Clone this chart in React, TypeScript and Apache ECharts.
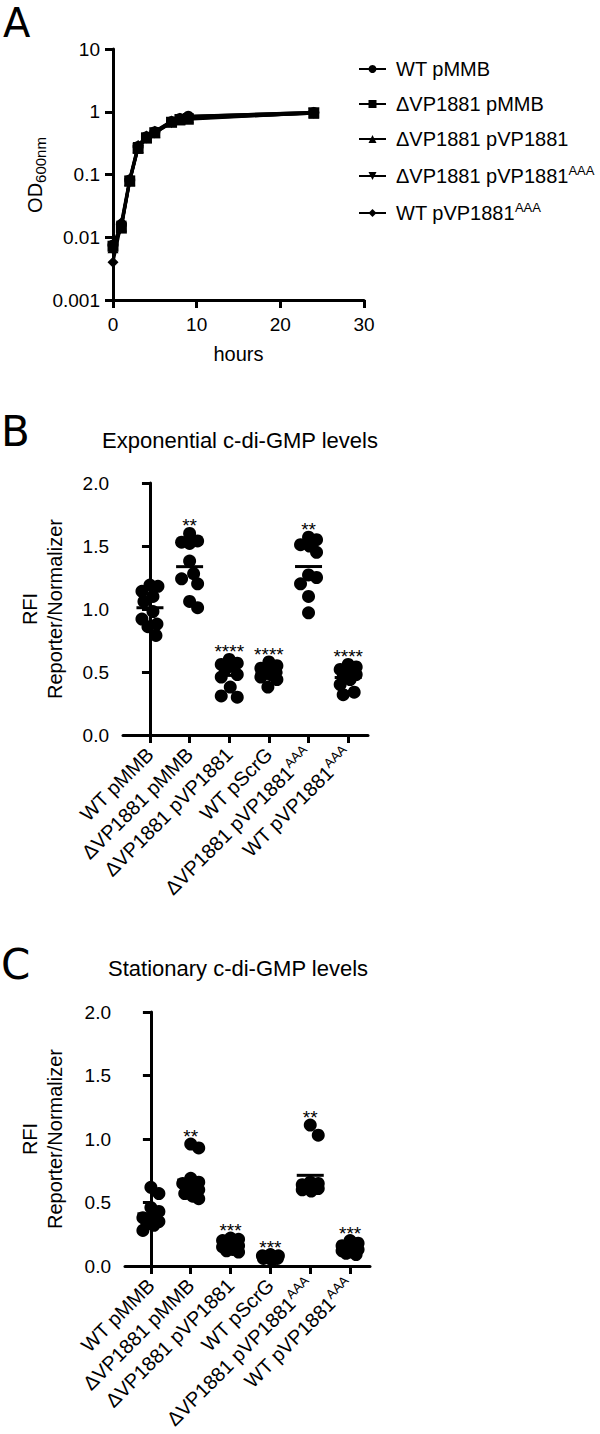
import React, { useEffect, useRef } from 'react';
import * as echarts from 'echarts';

const FONT = '"Liberation Sans", Arial, sans-serif';
const LETTER_FONT = '"DejaVu Sans", sans-serif';

// ---------- Panel A: growth curves ----------
const hours = [0, 1, 2, 3, 4, 5, 7, 8, 9, 24];
const odWTpMMB = [0.0075, 0.016, 0.082, 0.28, 0.4, 0.48, 0.7, 0.78, 0.85, 0.97];
const odDelpMMB = [0.0072, 0.014, 0.078, 0.26, 0.38, 0.46, 0.68, 0.74, 0.76, 0.96];
const odDelpVP = [0.0068, 0.015, 0.08, 0.27, 0.39, 0.47, 0.69, 0.76, 0.8, 0.95];
const odDelpVPAAA = [0.0062, 0.015, 0.079, 0.27, 0.38, 0.46, 0.67, 0.75, 0.78, 0.95];
const odWTpVPAAA = [0.004, 0.017, 0.085, 0.29, 0.41, 0.49, 0.71, 0.79, 0.84, 0.98];
const growthNames = ['WT pMMB', 'ΔVP1881 pMMB', 'ΔVP1881 pVP1881', 'ΔVP1881 pVP1881AAA', 'WT pVP1881AAA'];
const odTicks = [0.001, 0.01, 0.1, 1, 10];

// ---------- Panels B & C: c-di-GMP reporter ----------
const groupLabels = ['WT pMMB', 'ΔVP1881 pMMB', 'ΔVP1881 pVP1881', 'WT pScrG', 'ΔVP1881 pVP1881AAA', 'WT pVP1881AAA'];

const expWTpMMB = [1.19, 1.18, 1.14, 1.1, 1.06, 0.98, 0.92, 0.88, 0.86, 0.79];
const expDelpMMB = [1.6, 1.54, 1.53, 1.52, 1.38, 1.28, 1.24, 1.2, 1.06, 1.01];
const expDelpVP = [0.6, 0.57, 0.56, 0.55, 0.52, 0.48, 0.46, 0.38, 0.31, 0.3];
const expWTpScrG = [0.58, 0.55, 0.53, 0.52, 0.5, 0.49, 0.48, 0.46, 0.44, 0.38];
const expDelpVPAAA = [1.57, 1.55, 1.51, 1.5, 1.45, 1.27, 1.25, 1.2, 1.1, 0.97];
const expWTpVPAAA = [0.56, 0.54, 0.52, 0.5, 0.48, 0.46, 0.44, 0.4, 0.34, 0.32];
const expStars = ['', '**', '****', '****', '**', '****'];

const statWTpMMB = [0.62, 0.57, 0.46, 0.43, 0.38, 0.37, 0.35, 0.33, 0.32, 0.28];
const statDelpMMB = [0.96, 0.93, 0.69, 0.66, 0.65, 0.63, 0.6, 0.57, 0.55, 0.53];
const statDelpVP = [0.22, 0.21, 0.2, 0.19, 0.17, 0.16, 0.15, 0.13, 0.12, 0.11];
const statWTpScrG = [0.09, 0.08, 0.08, 0.07, 0.07, 0.07, 0.06, 0.06, 0.06, 0.05];
const statDelpVPAAA = [1.11, 1.03, 0.66, 0.65, 0.64, 0.63, 0.62, 0.61, 0.6, 0.59];
const statWTpVPAAA = [0.2, 0.18, 0.16, 0.15, 0.14, 0.13, 0.12, 0.11, 0.1, 0.09];
const statStars = ['', '**', '***', '***', '**', '***'];

// ---------- helpers ----------
const BASE = 20;
const supText = (s: string) =>
  s.endsWith('AAA') ? '{b|' + s.slice(0, -3) + '}{sup|AAA}' : '{b|' + s + '}';
const richSup = {
  b: { fontSize: BASE, lineHeight: 24, fontFamily: FONT, color: '#000' },
  sup: { fontSize: 13, lineHeight: 13, verticalAlign: 'top', fontFamily: FONT, color: '#000' },
};

// deterministic beeswarm-like spreading (pixel space), limited width
function swarm(values: number[], cat: number, pxX: number, pxY: number, maxPx = 8, d = 13) {
  const order = values.map((_, i) => i).sort((a, b) => values[b] - values[a]);
  const placed: { x: number; y: number }[] = [];
  const out: number[][] = new Array(values.length);
  for (const i of order) {
    const y = values[i] * pxY;
    let best = 0;
    let bestScore = -Infinity;
    for (let o = 0; o <= maxPx; o++) {
      const cands = o === 0 ? [0] : [o, -o];
      for (const s of cands) {
        let minD = Infinity;
        for (const p of placed) {
          const dd = Math.hypot(p.x - s, p.y - y);
          if (dd < minD) minD = dd;
        }
        const score = Math.min(minD, d) - Math.abs(s) * 0.01;
        if (score > bestScore + 1e-9) {
          bestScore = score;
          best = s;
        }
      }
    }
    placed.push({ x: best, y });
    out[i] = [cat + best / pxX, values[i]];
  }
  return out;
}

const mean = (a: number[]) => a.reduce((s, v) => s + v, 0) / a.length;

function dotPanelSeries(groups: number[][], stars: string[], axisIdx: number, pxX: number, pxY: number) {
  const pts: number[][] = [];
  groups.forEach((g, i) => pts.push(...swarm(g, i, pxX, pxY)));
  return [
    {
      type: 'scatter',
      xAxisIndex: axisIdx,
      yAxisIndex: axisIdx,
      symbol: 'circle',
      symbolSize: 13,
      itemStyle: { color: '#000', opacity: 1 },
      emphasis: { disabled: true },
      data: pts,
      z: 3,
    },
    {
      type: 'scatter',
      xAxisIndex: axisIdx,
      yAxisIndex: axisIdx,
      symbol: 'rect',
      symbolSize: [27, 3],
      itemStyle: { color: '#000', opacity: 1 },
      emphasis: { disabled: true },
      data: groups.map((g, i) => [i, mean(g)]),
      z: 4,
    },
    {
      type: 'scatter',
      xAxisIndex: axisIdx,
      yAxisIndex: axisIdx,
      symbol: 'circle',
      symbolSize: 0,
      itemStyle: { color: '#000', opacity: 1 },
      emphasis: { disabled: true },
      data: groups.map((g, i) => [i, Math.max(...g)]),
      label: {
        show: true,
        position: 'top',
        distance: -2,
        fontSize: 19,
        fontFamily: FONT,
        color: '#000',
        opacity: 1,
        formatter: (p: any) => stars[p.dataIndex],
      },
      z: 5,
    },
  ];
}

const axisLineStyle = { color: '#000', width: 3 };

function rfiYAxis(gridIndex: number) {
  return {
    type: 'value',
    gridIndex,
    min: 0,
    max: 2,
    interval: 0.5,
    axisLine: { show: true, lineStyle: axisLineStyle },
    axisTick: { show: true, length: 8, lineStyle: axisLineStyle },
    axisLabel: {
      margin: 14,
      fontSize: 19,
      fontFamily: FONT,
      color: '#000',
      formatter: (v: number) => v.toFixed(1),
    },
    splitLine: { show: false },
  };
}

function groupXAxis(gridIndex: number, min: number, max: number) {
  const vals = groupLabels.map((_, i) => i);
  return {
    type: 'value',
    gridIndex,
    min,
    max,
    axisLine: { show: true, onZero: false, lineStyle: axisLineStyle },
    axisTick: { show: true, length: 8, lineStyle: axisLineStyle, customValues: vals },
    axisLabel: {
      customValues: vals,
      rotate: 45,
      margin: 16,
      fontSize: BASE,
      fontFamily: FONT,
      color: '#000',
      formatter: (v: number) => supText(groupLabels[Math.round(v)] ?? ''),
      rich: richSup,
    },
    splitLine: { show: false },
  };
}

function App() {
  const ref = useRef<HTMLDivElement>(null);
  useEffect(() => {
    if (!ref.current) return;
    const chart = echarts.init(ref.current, null, { renderer: 'svg' });

    const growthSeries = [
      { name: growthNames[0], data: odWTpMMB, symbol: 'circle', rot: 0 },
      { name: growthNames[1], data: odDelpMMB, symbol: 'rect', rot: 0 },
      { name: growthNames[2], data: odDelpVP, symbol: 'triangle', rot: 0 },
      { name: growthNames[3], data: odDelpVPAAA, symbol: 'triangle', rot: 180 },
      { name: growthNames[4], data: odWTpVPAAA, symbol: 'diamond', rot: 0 },
    ].map((s) => ({
      type: 'line',
      name: s.name,
      xAxisIndex: 0,
      yAxisIndex: 0,
      symbol: s.symbol,
      symbolRotate: s.rot,
      symbolSize: 11,
      showSymbol: true,
      lineStyle: { color: '#000', width: 3 },
      itemStyle: { color: '#000', opacity: 1 },
      emphasis: { disabled: true },
      data: hours.map((h, i) => [h, s.data[i]]),
    }));

    const option: any = {
      animation: false,
      textStyle: { fontFamily: FONT },
      grid: [
        { left: 113, top: 49, width: 251, height: 251 },
        { left: 123, top: 483, width: 245, height: 252 },
        { left: 125, top: 1012, width: 245, height: 254 },
      ],
      legend: {
        orient: 'vertical',
        left: 353,
        top: 54,
        itemWidth: 27,
        itemHeight: 10,
        itemGap: 15,
        data: growthNames,
        lineStyle: { width: 2 },
        textStyle: {
          fontSize: BASE,
          fontFamily: FONT,
          color: '#000',
          padding: [0, 0, 0, 5],
          rich: richSup,
        },
        formatter: (n: string) => supText(n),
      },
      xAxis: [
        {
          type: 'value',
          gridIndex: 0,
          min: 0,
          max: 30,
          interval: 10,
          name: 'hours',
          nameLocation: 'middle',
          nameGap: 44,
          nameTextStyle: { fontSize: BASE, fontFamily: FONT, color: '#000' },
          axisLine: { show: true, onZero: false, lineStyle: axisLineStyle },
          axisTick: { show: true, length: 8, lineStyle: axisLineStyle },
          axisLabel: { margin: 15, fontSize: 19, fontFamily: FONT, color: '#000' },
          splitLine: { show: false },
        },
        groupXAxis(1, -0.68, 5.5),
        groupXAxis(2, -0.65, 5.5),
      ],
      yAxis: [
        {
          type: 'log',
          gridIndex: 0,
          logBase: 10,
          min: odTicks[0],
          max: odTicks[odTicks.length - 1],
          axisLine: { show: true, onZero: false, lineStyle: axisLineStyle },
          axisTick: { show: true, length: 8, lineStyle: axisLineStyle },
          minorTick: { show: false },
          axisLabel: {
            margin: 13,
            fontSize: 19,
            fontFamily: FONT,
            color: '#000',
            formatter: (v: number) => {
              const e = Math.round(Math.log10(v));
              return e >= 0 ? String(Math.pow(10, e)) : '0.' + '0'.repeat(-e - 1) + '1';
            },
          },
          splitLine: { show: false },
        },
        rfiYAxis(1),
        rfiYAxis(2),
      ],
      series: [
        ...growthSeries,
        ...dotPanelSeries(
          [expWTpMMB, expDelpMMB, expDelpVP, expWTpScrG, expDelpVPAAA, expWTpVPAAA],
          expStars,
          1,
          39.6,
          126
        ),
        ...dotPanelSeries(
          [statWTpMMB, statDelpMMB, statDelpVP, statWTpScrG, statDelpVPAAA, statWTpVPAAA],
          statStars,
          2,
          39.8,
          127
        ),
      ],
      graphic: [
        { type: 'text', x: 3, y: 23, style: { text: 'A', fontSize: 40, fontFamily: LETTER_FONT, fill: '#000', align: 'left', verticalAlign: 'middle' } },
        { type: 'text', x: 1, y: 431, style: { text: 'B', fontSize: 42, fontFamily: LETTER_FONT, fill: '#000', align: 'left', verticalAlign: 'middle' } },
        { type: 'text', x: 1, y: 964, style: { text: 'C', fontSize: 42, fontFamily: LETTER_FONT, fill: '#000', align: 'left', verticalAlign: 'middle' } },
        { type: 'text', x: 240, y: 440, style: { text: 'Exponential c-di-GMP levels', fontSize: 22, fontFamily: FONT, fill: '#000', align: 'center', verticalAlign: 'middle' } },
        { type: 'text', x: 238, y: 968, style: { text: 'Stationary c-di-GMP levels', fontSize: 22, fontFamily: FONT, fill: '#000', align: 'center', verticalAlign: 'middle' } },
        {
          type: 'text',
          x: 35,
          y: 175,
          rotation: Math.PI / 2,
          style: {
            text: '{b|OD}{s|600nm}',
            align: 'center',
            verticalAlign: 'middle',
            fill: '#000',
            rich: {
              b: { fontSize: 20, lineHeight: 26, fontFamily: FONT, fill: '#000' },
              s: { fontSize: 15, lineHeight: 15, verticalAlign: 'bottom', fontFamily: FONT, fill: '#000' },
            },
          },
        },
        { type: 'text', x: 42, y: 609, rotation: Math.PI / 2, style: { text: 'RFI\nReporter/Normalizer', fontSize: BASE, lineHeight: 25, fontFamily: FONT, fill: '#000', align: 'center', verticalAlign: 'middle' } },
        { type: 'text', x: 42, y: 1139, rotation: Math.PI / 2, style: { text: 'RFI\nReporter/Normalizer', fontSize: BASE, lineHeight: 25, fontFamily: FONT, fill: '#000', align: 'center', verticalAlign: 'middle' } },
      ],
    };
    chart.setOption(option);
    return () => chart.dispose();
  }, []);
  return <div ref={ref} style={{ position: 'absolute', left: 0, top: 0, width: 600, height: 1434, background: '#fff' }} />;
}

export default App;
